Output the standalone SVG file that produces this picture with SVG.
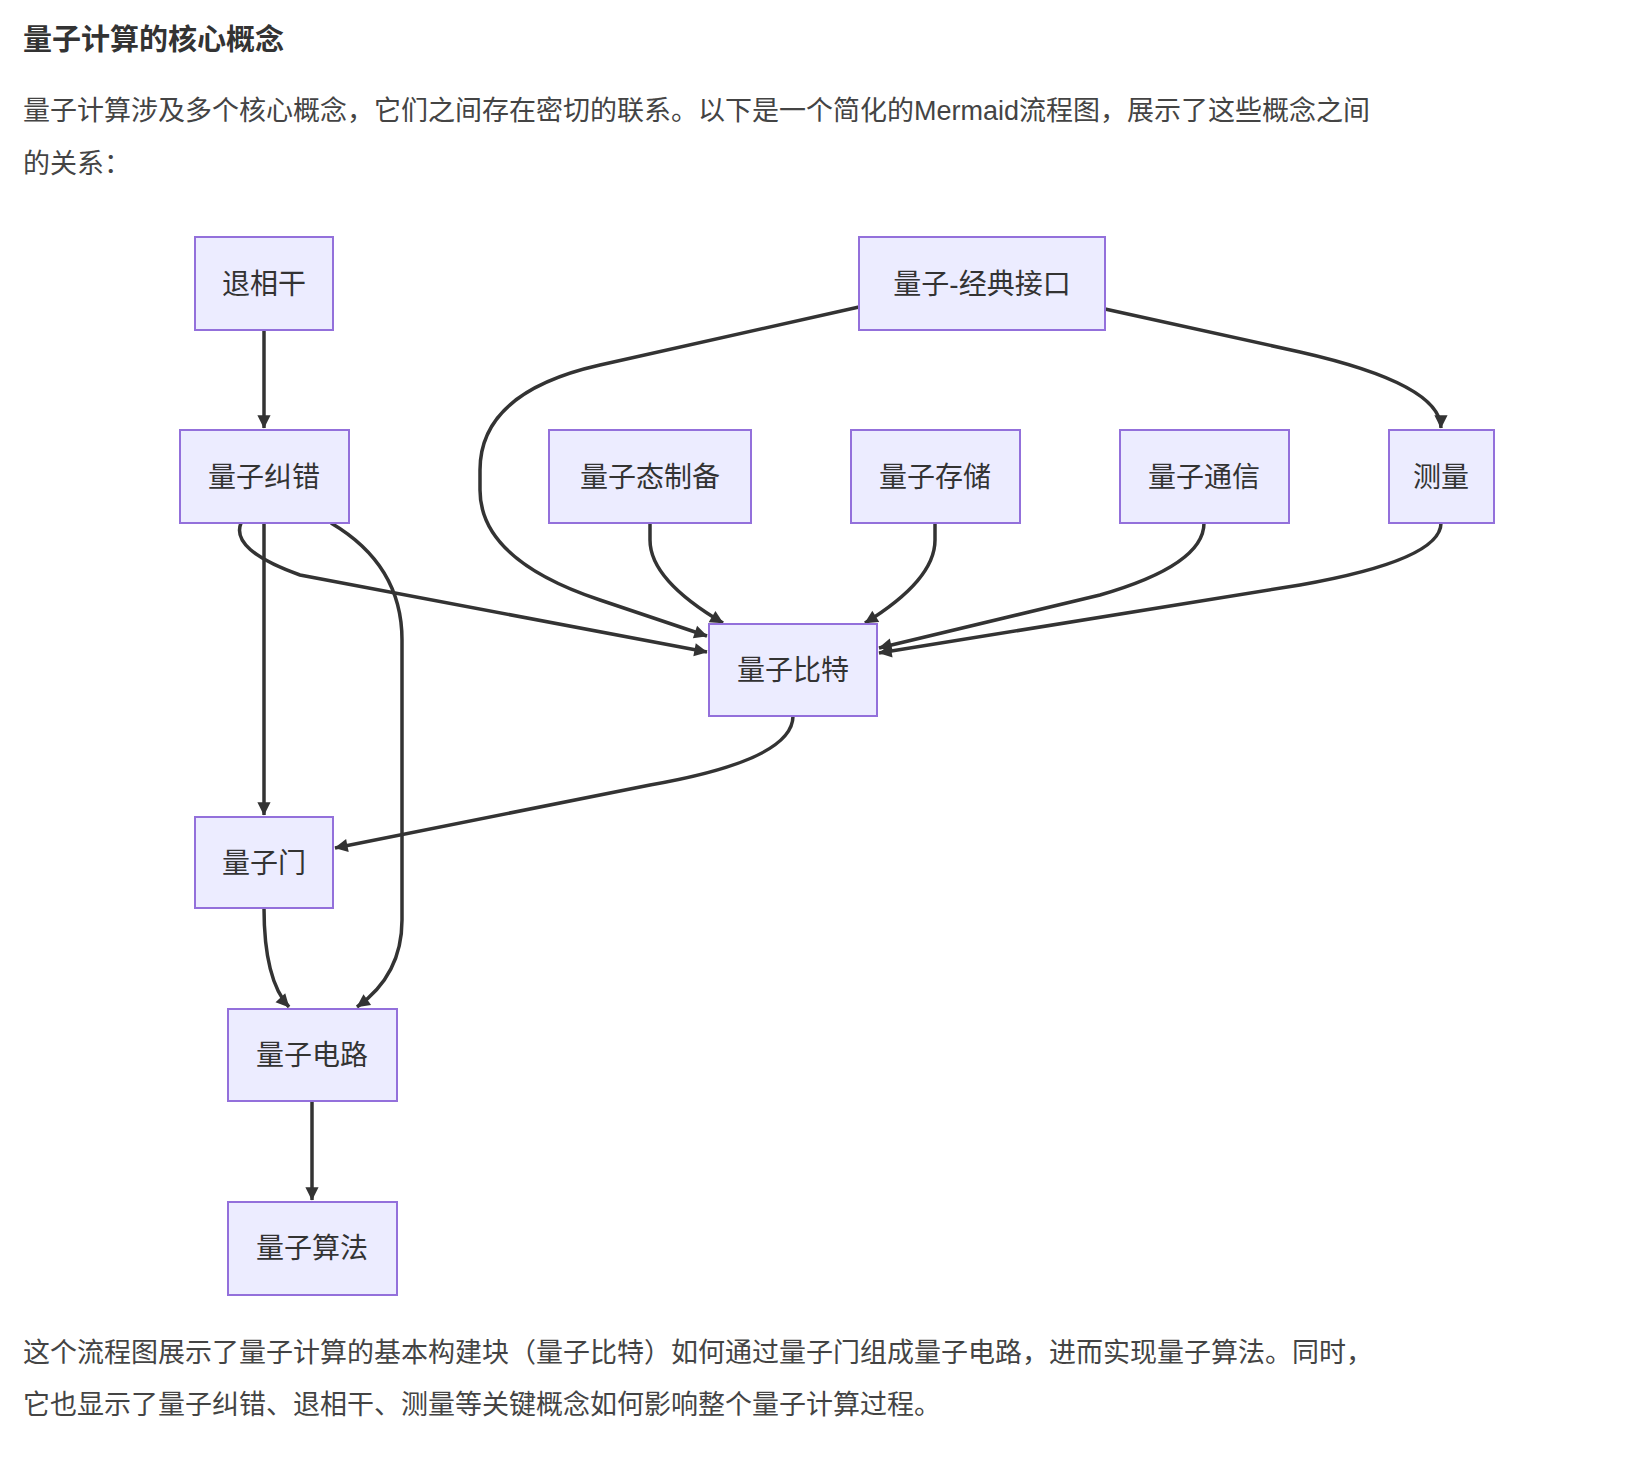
<svg xmlns="http://www.w3.org/2000/svg" width="1638" height="1462" viewBox="0 0 1638 1462">
<style>
text{font-family:"Liberation Sans","Noto Sans CJK SC",sans-serif;fill:#333}
.p{font-size:27px;fill:#444}
.n rect{fill:#ECECFF;stroke:#9370DB;stroke-width:2}
.n text{font-size:28px;text-anchor:middle;dominant-baseline:central}
.e path{fill:none;stroke:#333;stroke-width:3.5;marker-end:url(#a)}
</style>
<defs><marker id="a" viewBox="0 0 10 10" refX="9" refY="5" markerWidth="6" markerHeight="6" orient="auto" markerUnits="userSpaceOnUse" style="overflow:visible"><path d="M0,0L10,5L0,10z" fill="#333" transform="scale(2.2) translate(-5.5,-2.7)"/></marker></defs>
<rect width="1638" height="1462" fill="#fff"/>
<text x="23" y="50" style="font-size:29px;font-weight:bold">量子计算的核心概念</text>
<text class="p" x="23" y="120">量子计算涉及多个核心概念，它们之间存在密切的联系。以下是一个简化的Mermaid流程图，展示了这些概念之间</text>
<text class="p" x="23" y="173">的关系：</text>
<text class="p" x="23" y="1362">这个流程图展示了量子计算的基本构建块（量子比特）如何通过量子门组成量子电路，进而实现量子算法。同时，</text>
<text class="p" x="23" y="1414">它也显示了量子纠错、退相干、测量等关键概念如何影响整个量子计算过程。</text>
<g class="e">
<path d="M264,330 L264,428"/>
<path d="M859,307 L600,365 Q480,392 480,470 L480,490 Q480,560 600,600 L707,636"/>
<path d="M1105,309 L1300,352 Q1441,384 1441,428"/>
<path d="M241,523 Q230,550 300,575 L707,652"/>
<path d="M264,523 L264,815"/>
<path d="M331,523 Q402,565 402,640 L402,920 Q402,975 357,1007"/>
<path d="M650,523 L650,540 Q650,580 723,623"/>
<path d="M935,523 L935,540 Q935,580 865,623"/>
<path d="M1204,523 Q1204,565 1100,595 L879,648"/>
<path d="M1441,523 Q1441,560 1300,585 L879,653"/>
<path d="M793,716 Q793,760 650,785 L335,848"/>
<path d="M264,908 Q264,980 289,1007"/>
<path d="M312,1101 L312,1200"/>
</g>
<g class="n" id="n1"><rect x="195" y="237" width="138" height="93"/><text x="264" y="284">退相干</text></g>
<g class="n" id="n2"><rect x="859" y="237" width="246" height="93"/><text x="982" y="284">量子-经典接口</text></g>
<g class="n" id="n3"><rect x="180" y="430" width="169" height="93"/><text x="264" y="477">量子纠错</text></g>
<g class="n" id="n4"><rect x="549" y="430" width="202" height="93"/><text x="650" y="477">量子态制备</text></g>
<g class="n" id="n5"><rect x="851" y="430" width="169" height="93"/><text x="935" y="477">量子存储</text></g>
<g class="n" id="n6"><rect x="1120" y="430" width="169" height="93"/><text x="1204" y="477">量子通信</text></g>
<g class="n" id="n7"><rect x="1389" y="430" width="105" height="93"/><text x="1441" y="477">测量</text></g>
<g class="n" id="n8"><rect x="709" y="624" width="168" height="92"/><text x="793" y="670">量子比特</text></g>
<g class="n" id="n9"><rect x="195" y="817" width="138" height="91"/><text x="264" y="863">量子门</text></g>
<g class="n" id="n10"><rect x="228" y="1009" width="169" height="92"/><text x="312" y="1055">量子电路</text></g>
<g class="n" id="n11"><rect x="228" y="1202" width="169" height="93"/><text x="312" y="1248">量子算法</text></g>
</svg>
